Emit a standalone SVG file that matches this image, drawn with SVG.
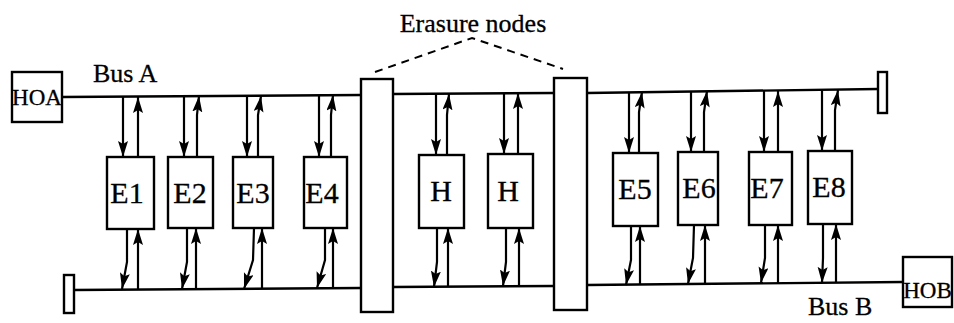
<svg xmlns="http://www.w3.org/2000/svg" width="954" height="323" viewBox="0 0 954 323">
<style>
.bus{stroke:#000;stroke-width:2.4;fill:none}
.box{fill:#fff;stroke:#000;stroke-width:2.4}
.arr{stroke:#000;stroke-width:2.2;fill:none;marker-end:url(#ah)}
.lbl{font-family:"Liberation Serif","Times New Roman",serif;fill:#000;stroke:#000;stroke-width:0.3}
.n{font-size:30px;text-anchor:middle}
.h{font-size:23px;text-anchor:middle}
.t{font-size:26px}
</style>
<defs>
<marker id="ah" markerUnits="userSpaceOnUse" markerWidth="18" markerHeight="12" refX="16" refY="5" orient="auto">
<path d="M0,0 L16,5 L0,10 L3,5 Z" fill="#000"/>
</marker>
</defs>
<g id="buses">
<path class="bus" d="M62,97 L361,95 M393,94 L554,93 M587,93 L878,89"/>
<path class="bus" d="M74,290 L361,288 M393,287 L554,286 M587,285 L903,282"/>
</g>
<g id="connectors">
<!-- E1 -->
<path class="arr" d="M123,97 L123,157"/>
<path class="arr" d="M138,157 L138,97"/>
<path class="arr" d="M127,229 L127,262 L122,289"/>
<path class="arr" d="M138,289 L138,229"/>
<!-- E2 -->
<path class="arr" d="M184,96 L184,157"/>
<path class="arr" d="M197,157 L197,115 L199,96"/>
<path class="arr" d="M187,228 L187,262 L182,289"/>
<path class="arr" d="M196,289 L196,228"/>
<!-- E3 -->
<path class="arr" d="M247,96 L247,157"/>
<path class="arr" d="M258,157 L258,115 L261,96"/>
<path class="arr" d="M254,228 L253,260 L244,289"/>
<path class="arr" d="M262,289 L262,228"/>
<!-- E4 -->
<path class="arr" d="M319,95 L319,157"/>
<path class="arr" d="M331,157 L331,115 L333,95"/>
<path class="arr" d="M325,228 L325,260 L317,288"/>
<path class="arr" d="M333,288 L333,228"/>
<!-- H1 -->
<path class="arr" d="M436,94 L436,155"/>
<path class="arr" d="M447,155 L447,115 L449,94"/>
<path class="arr" d="M437,228 L437,262 L434,287"/>
<path class="arr" d="M448,287 L448,228"/>
<!-- H2 -->
<path class="arr" d="M504,93 L504,154"/>
<path class="arr" d="M518,154 L518,93"/>
<path class="arr" d="M506,228 L506,262 L503,286"/>
<path class="arr" d="M519,286 L519,228"/>
<!-- E5 -->
<path class="arr" d="M629,92 L629,153"/>
<path class="arr" d="M639,153 L639,112 L642,92"/>
<path class="arr" d="M631,226 L631,260 L626,285"/>
<path class="arr" d="M640,285 L640,226"/>
<!-- E6 -->
<path class="arr" d="M691,92 L691,152"/>
<path class="arr" d="M704,152 L704,112 L707,91"/>
<path class="arr" d="M694,225 L693,258 L688,284"/>
<path class="arr" d="M705,284 L705,225"/>
<!-- E7 -->
<path class="arr" d="M764,91 L764,152"/>
<path class="arr" d="M778,152 L778,91"/>
<path class="arr" d="M765,225 L765,258 L761,283"/>
<path class="arr" d="M778,283 L778,225"/>
<!-- E8 -->
<path class="arr" d="M822,90 L822,151"/>
<path class="arr" d="M835,151 L835,110 L838,90"/>
<path class="arr" d="M823,224 L823,258 L822,283"/>
<path class="arr" d="M836,283 L836,224"/>
<!-- erasure pointer -->
<path d="M375,72 L472,38 L563,69" fill="none" stroke="#000" stroke-width="2" stroke-dasharray="8,6"/>
</g>
<g id="termA"><rect class="box" x="878" y="72" width="9" height="41"/></g>
<g id="termB"><rect class="box" x="64" y="275" width="10" height="38"/></g>
<g id="HOA"><rect class="box" x="12" y="72" width="50" height="50"/><text class="lbl h" x="37" y="105">HOA</text></g>
<g id="HOB"><rect class="box" x="903" y="257" width="49" height="50"/><text class="lbl h" x="927.5" y="298">HOB</text></g>
<g id="erasure1"><rect class="box" x="361" y="79" width="32" height="233"/></g>
<g id="erasure2"><rect class="box" x="554" y="78" width="33" height="232"/></g>
<g id="E1"><rect class="box" x="107" y="157" width="47" height="72"/><text class="lbl n" x="127" y="203">E1</text></g>
<g id="E2"><rect class="box" x="168" y="157" width="45" height="71"/><text class="lbl n" x="190" y="203">E2</text></g>
<g id="E3"><rect class="box" x="233" y="157" width="40" height="71"/><text class="lbl n" x="253" y="203">E3</text></g>
<g id="E4"><rect class="box" x="304" y="157" width="43" height="71"/><text class="lbl n" x="322" y="203">E4</text></g>
<g id="H1"><rect class="box" x="419" y="155" width="45" height="73"/><text class="lbl n" x="441" y="201">H</text></g>
<g id="H2"><rect class="box" x="488" y="154" width="45" height="74"/><text class="lbl n" x="508" y="201">H</text></g>
<g id="E5"><rect class="box" x="613" y="153" width="45" height="73"/><text class="lbl n" x="635" y="199">E5</text></g>
<g id="E6"><rect class="box" x="678" y="152" width="40" height="73"/><text class="lbl n" x="699" y="198">E6</text></g>
<g id="E7"><rect class="box" x="749" y="152" width="43" height="73"/><text class="lbl n" x="767" y="198">E7</text></g>
<g id="E8"><rect class="box" x="808" y="151" width="44" height="73"/><text class="lbl n" x="829" y="197">E8</text></g>
<g id="labels">
<text class="lbl t" x="93" y="82">Bus A</text>
<text class="lbl t" x="808" y="315">Bus B</text>
<text class="lbl t" x="473" y="32" text-anchor="middle">Erasure nodes</text>
</g>
</svg>
